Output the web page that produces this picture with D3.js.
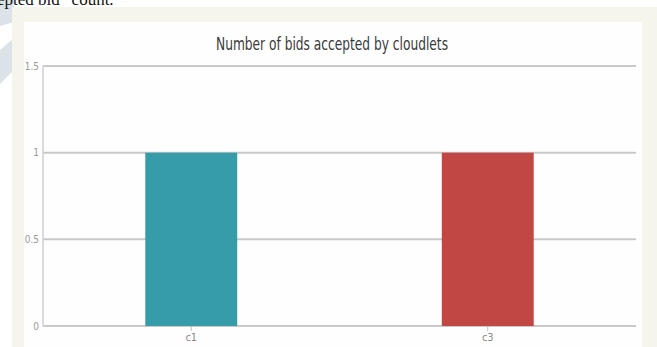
<!DOCTYPE html>
<html>
<head>
<meta charset="utf-8">
<script src="https://cdn.jsdelivr.net/npm/d3@7"></script>
<style>
  body { margin: 0; background: #fff; }
  svg { display: block; }
</style>
</head>
<body>
<div id="chart"></div>
<script>
// data
var categories = ["c1", "c3"];
var bidsAccepted = [1, 1];
var barColors = ["#379ca9", "#c04744"];
var yTicks = [0, 0.5, 1, 1.5];
var yTickLabels = ["0", "0.5", "1", "1.5"];

var width = 657, height = 347;
var narrow = "'Liberation Sans Narrow', 'DejaVu Sans Condensed', Arial, sans-serif";

var svg = d3.select("#chart").append("svg")
  .attr("width", width)
  .attr("height", height);

// page scan bits around the figure
svg.append("path")
  .attr("d", "M0,0 L14,0 L14,22 L0,26 Z")
  .attr("fill", "#dce3e8");
svg.append("path")
  .attr("d", "M0,50 L14,38 L14,70 L0,84 Z")
  .attr("fill", "#dce3e8");
svg.append("text")
  .attr("x", -3).attr("y", 5)
  .attr("font-family", "'Liberation Serif', serif")
  .attr("font-size", 17)
  .attr("fill", "#111")
  .text("epted bid\u201D count.");

// cream frame + white panel
svg.append("rect")
  .attr("x", 12).attr("y", 7)
  .attr("width", width - 12).attr("height", height - 7)
  .attr("fill", "#f6f5ec");
svg.append("rect")
  .attr("x", 24).attr("y", 22)
  .attr("width", 618).attr("height", height - 22)
  .attr("fill", "#fefefe");

svg.append("text")
  .attr("x", 332).attr("y", 50)
  .attr("text-anchor", "middle")
  .attr("font-family", narrow)
  .attr("font-size", 17)
  .attr("fill", "#3a3a3a")
  .attr("textLength", 232)
  .attr("lengthAdjust", "spacingAndGlyphs")
  .text("Number of bids accepted by cloudlets");

var plotLeft = 43, plotRight = 636, plotTop = 66, plotBottom = 326;

var x = d3.scaleBand()
  .domain(categories)
  .range([plotLeft, plotRight])
  .paddingInner(0.69)
  .paddingOuter(0.345);

var y = d3.scaleLinear()
  .domain([0, 1.5])
  .range([plotBottom, plotTop]);

// grid lines
svg.append("g")
  .selectAll("line")
  .data(yTicks)
  .join("line")
  .attr("x1", plotLeft).attr("x2", plotRight)
  .attr("y1", function(d) { return y(d); })
  .attr("y2", function(d) { return y(d); })
  .attr("stroke", "#c9c9c9")
  .attr("stroke-width", 2);

// y axis line
svg.append("line")
  .attr("x1", plotLeft).attr("x2", plotLeft)
  .attr("y1", plotTop).attr("y2", plotBottom)
  .attr("stroke", "#cfcfcf")
  .attr("stroke-width", 1.5);

var yAxis = svg.append("g")
  .attr("transform", "translate(" + (plotLeft - 4) + ",0)")
  .call(d3.axisLeft(y).tickValues(yTicks)
    .tickFormat(function(d, i) { return yTickLabels[i]; })
    .tickSize(0).tickPadding(0));
yAxis.select(".domain").remove();
yAxis.selectAll("text")
  .attr("font-family", narrow)
  .attr("font-size", 10)
  .attr("fill", "#9a9a9a");

// bars
svg.append("g")
  .selectAll("rect")
  .data(bidsAccepted)
  .join("rect")
  .attr("x", function(d, i) { return x(categories[i]); })
  .attr("y", function(d) { return y(d); })
  .attr("width", x.bandwidth())
  .attr("height", function(d) { return y(0) - y(d); })
  .attr("fill", function(d, i) { return barColors[i]; });

// x axis
var xAxis = svg.append("g")
  .attr("transform", "translate(0," + plotBottom + ")")
  .call(d3.axisBottom(x).tickSize(5).tickPadding(2));
xAxis.select(".domain").remove();
xAxis.selectAll("line").attr("stroke", "#c0c0c0");
xAxis.selectAll("text")
  .attr("font-family", narrow)
  .attr("font-size", 11)
  .attr("fill", "#8a8a8a");
</script>
</body>
</html>
